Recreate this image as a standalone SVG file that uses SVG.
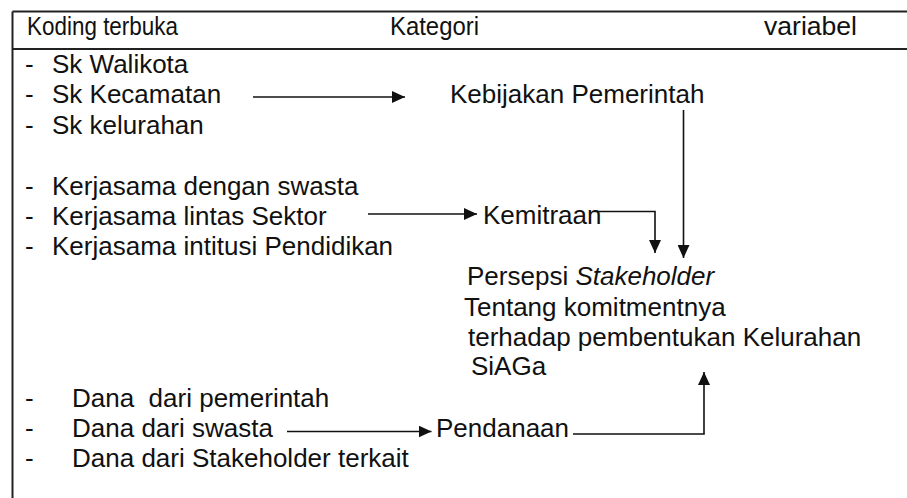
<svg xmlns="http://www.w3.org/2000/svg" width="907" height="498" viewBox="0 0 907 498">
<style>
  .hd { font-family: "Liberation Sans", Arial, sans-serif; font-size: 25px; fill: #111; }
  .tx { font-family: "Liberation Sans", Arial, sans-serif; font-size: 26px; fill: #111; }
  .frame { stroke: #222; stroke-width: 2; fill: none; }
  .conn { stroke: #111; stroke-width: 1.6; fill: none; }
</style>
<defs>
  <marker id="ah" markerUnits="userSpaceOnUse" markerWidth="14" markerHeight="12" refX="13" refY="6" orient="auto">
    <path d="M0,0 L13,6 L0,12 z" fill="#111"/>
  </marker>
</defs>

<g id="frame">
  <line class="frame" x1="12.5" y1="11.5" x2="907" y2="11.5"/>
  <line class="frame" x1="12.5" y1="49" x2="907" y2="49"/>
  <line class="frame" x1="12.5" y1="11.5" x2="12.5" y2="498"/>
</g>

<g id="header">
  <text class="hd" x="27" y="35" textLength="151" lengthAdjust="spacingAndGlyphs">Koding terbuka</text>
  <text class="hd" x="390" y="35" textLength="89" lengthAdjust="spacingAndGlyphs">Kategori</text>
  <text class="hd" x="764" y="35" textLength="93" lengthAdjust="spacingAndGlyphs">variabel</text>
</g>

<g id="sk-list">
  <text class="tx" x="25" y="73">-</text><text class="tx" x="52" y="73">Sk Walikota</text>
  <text class="tx" x="25" y="103">-</text><text class="tx" x="52" y="103">Sk Kecamatan</text>
  <text class="tx" x="25" y="134">-</text><text class="tx" x="52" y="134">Sk kelurahan</text>
</g>

<g id="kerjasama-list">
  <text class="tx" x="25" y="195">-</text><text class="tx" x="52" y="195">Kerjasama dengan swasta</text>
  <text class="tx" x="25" y="225">-</text><text class="tx" x="52" y="225">Kerjasama lintas Sektor</text>
  <text class="tx" x="25" y="255">-</text><text class="tx" x="52" y="255">Kerjasama intitusi Pendidikan</text>
</g>

<g id="dana-list">
  <text class="tx" x="25" y="407">-</text><text class="tx" x="72" y="407" xml:space="preserve">Dana  dari pemerintah</text>
  <text class="tx" x="25" y="437">-</text><text class="tx" x="72" y="437">Dana dari swasta</text>
  <text class="tx" x="25" y="467">-</text><text class="tx" x="72" y="467">Dana dari Stakeholder terkait</text>
</g>

<g id="kebijakan">
  <text class="tx" x="450" y="103">Kebijakan Pemerintah</text>
</g>

<g id="kemitraan">
  <text class="tx" x="483" y="224">Kemitraan</text>
</g>

<g id="pendanaan">
  <text class="tx" x="436" y="437">Pendanaan</text>
</g>

<g id="persepsi">
  <text class="tx" x="467" y="285">Persepsi <tspan font-style="italic">Stakeholder</tspan></text>
  <text class="tx" x="464" y="316">Tentang komitmentnya</text>
  <text class="tx" x="468" y="346">terhadap pembentukan Kelurahan</text>
  <text class="tx" x="471" y="375">SiAGa</text>
</g>

<g id="connectors">
  <line class="conn" x1="253" y1="97" x2="405" y2="97" marker-end="url(#ah)"/>
  <line class="conn" x1="368" y1="214" x2="477" y2="214" marker-end="url(#ah)"/>
  <path class="conn" d="M593,211.5 H655 V253" marker-end="url(#ah)"/>
  <path class="conn" d="M683.5,110 V258" marker-end="url(#ah)"/>
  <line class="conn" x1="287" y1="431.5" x2="431.5" y2="431.5" marker-end="url(#ah)"/>
  <path class="conn" d="M573,434 H704 V372" marker-end="url(#ah)"/>
</g>
</svg>
